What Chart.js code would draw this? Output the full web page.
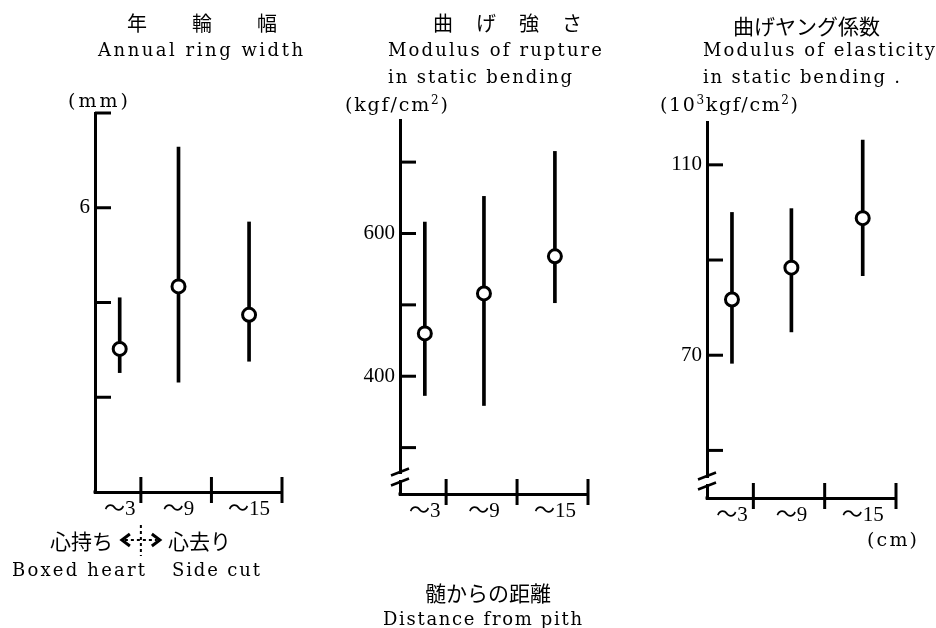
<!DOCTYPE html>
<html>
<head>
<meta charset="utf-8">
<script src="https://cdn.jsdelivr.net/npm/chart.js@4.4.1/dist/chart.umd.min.js"></script>
<style>
  body { margin: 0; background: #fff; }
  #wrap { position: relative; width: 936px; height: 628px; overflow: hidden; }
  canvas { position: absolute; top: 0; }
  .t { position: absolute; white-space: nowrap; color: #000; line-height: 20px; }
  .s { font: 18px 'DejaVu Serif', serif; }
  .u { font-size: 19px; }
  .j { font-family: 'Noto Sans CJK JP', sans-serif; font-size: 20px; }
  .sup { font-size: 12px; position: relative; top: -7px; line-height: 0; }
</style>
</head>
<body>
<div id="wrap">
  <canvas id="c1" width="312" height="628" style="left:0px"></canvas>
  <canvas id="c2" width="312" height="628" style="left:312px"></canvas>
  <canvas id="c3" width="312" height="628" style="left:624px"></canvas>

  <!-- panel titles -->
  <div class="t j" style="left:127px;top:13px;letter-spacing:45px">年輪幅</div>
  <div class="t s" data-w="205" style="left:98px;top:39px">Annual ring width</div>
  <div class="t s u" data-w="60" style="left:68px;top:89px">(mm)</div>

  <div class="t j" style="left:433px;top:13px;letter-spacing:23px">曲げ強さ</div>
  <div class="t s" data-w="214" style="left:388px;top:39px">Modulus of rupture</div>
  <div class="t s" data-w="184" style="left:388px;top:66px">in static bending</div>
  <div class="t s u" data-w="103" style="left:345px;top:93px">(kgf/cm<span class="sup">2</span>)</div>

  <div class="t j" style="left:733px;top:15px;font-size:21px">曲げヤング係数</div>
  <div class="t s" data-w="232" style="left:703px;top:39px">Modulus of elasticity</div>
  <div class="t s" data-w="197" style="left:703px;top:66px">in static bending .</div>
  <div class="t s u" data-w="138" style="left:660px;top:93px">(10<span class="sup">3</span>kgf/cm<span class="sup">2</span>)</div>

  <!-- captions -->
  <div class="t j" style="left:50px;top:530px;font-size:21px">心持ち</div>
  <div class="t j" style="left:168px;top:530px;font-size:21px">心去り</div>
  <div class="t s" data-w="133" style="left:12px;top:559px">Boxed heart</div>
  <div class="t s" data-w="88" style="left:172px;top:559px">Side cut</div>
  <div class="t s u" data-w="50" style="left:867px;top:528px">(cm)</div>
  <div class="t j" style="left:425px;top:582px;font-size:21px">髄からの距離</div>
  <div class="t s" data-w="199" style="left:383px;top:608px">Distance from pith</div>
</div>

<script>
// distance from pith (cm) groups
const groupLabels = ['～3', '～9', '～15'];
const groupX = [1.2, 6.2, 12.2];
const boundaryX = [3, 9, 15];
const xMin = -0.9;

// annual ring width (mm)
const ringMean = [4.51, 5.17, 4.87];
const ringLow = [4.26, 4.16, 4.38];
const ringHigh = [5.05, 6.64, 5.85];
const ringTicks = [4, 5, 6, 7];
const ringShown = [6];

// modulus of rupture (kgf/cm2)
const morMean = [460, 516, 568];
const morLow = [373, 359, 503];
const morHigh = [616, 652, 715];
const morTicks = [300, 400, 500, 600, 700];
const morShown = [400, 600];

// modulus of elasticity (10^3 kgf/cm2)
const moeMean = [81.7, 88.4, 98.8];
const moeLow = [68.3, 74.9, 86.7];
const moeHigh = [100, 100.8, 115.2];
const moeTicks = [50, 70, 90, 110];
const moeShown = [70, 110];

const tickFont = { family: "'Liberation Serif', 'Noto Sans CJK JP', serif", size: 21 };

function line(ctx, x1, y1, x2, y2) {
  ctx.beginPath();
  ctx.moveTo(x1, y1);
  ctx.lineTo(x2, y2);
  ctx.stroke();
}

// inward tick marks, axis break and the boxed/side arrow
const decor = {
  id: 'decor',
  afterDraw(chart, args, o) {
    const { ctx, chartArea: a } = chart;
    const xs = chart.scales.x, ys = chart.scales.y;
    ctx.save();
    ctx.strokeStyle = '#000';
    ctx.fillStyle = '#000';
    ctx.lineWidth = 3;
    o.ticks.forEach(v => {
      const py = ys.getPixelForValue(v);
      line(ctx, a.left, py, a.left + 16, py);
    });
    boundaryX.forEach(v => {
      const px = xs.getPixelForValue(v);
      line(ctx, px, a.bottom - 15, px, a.bottom + 11);
    });
    ctx.fillRect(a.left - 1.5, a.bottom - 1.5, 3, 3);

    if (o.broken) {
      const x = a.left, yb = a.bottom;
      ctx.fillStyle = '#fff';
      ctx.fillRect(x - 3, yb - 20, 6, 6);
      ctx.lineWidth = 2.5;
      line(ctx, x - 9, yb - 22 + 3.5, x + 9, yb - 22 - 3.5);
      line(ctx, x - 9, yb - 12 + 3.5, x + 9, yb - 12 - 3.5);
    }

    if (o.arrow) {
      const cx = xs.getPixelForValue(boundaryX[0]), cy = 540;
      ctx.lineWidth = 2;
      ctx.setLineDash([3, 3]);
      line(ctx, cx, cy - 15, cx, cy + 16);
      line(ctx, cx - 16, cy, cx + 16, cy);
      ctx.setLineDash([]);
      ctx.lineWidth = 3;
      ctx.beginPath();
      ctx.moveTo(cx - 11, cy - 6); ctx.lineTo(cx - 19, cy); ctx.lineTo(cx - 11, cy + 6);
      ctx.moveTo(cx + 11, cy - 6); ctx.lineTo(cx + 19, cy); ctx.lineTo(cx + 11, cy + 6);
      ctx.stroke();
    }
    ctx.restore();
  }
};

function makePanel(id, p) {
  return new Chart(document.getElementById(id), {
    type: 'scatter',
    data: {
      datasets: [
        {
          type: 'scatter',
          data: groupX.map((x, i) => ({ x: x, y: p.mean[i] })),
          pointRadius: 6.5,
          pointBorderWidth: 3,
          pointBackgroundColor: '#fff',
          pointBorderColor: '#000',
          order: 0
        },
        {
          type: 'bar',
          data: groupX.map((x, i) => ({ x: x, y: [p.low[i], p.high[i]] })),
          barThickness: 3,
          backgroundColor: '#000',
          order: 1
        }
      ]
    },
    options: {
      responsive: false,
      animation: false,
      events: [],
      layout: { padding: p.pad },
      plugins: {
        legend: { display: false },
        tooltip: { enabled: false },
        decor: { ticks: p.ticks, broken: p.broken, arrow: p.arrow }
      },
      scales: {
        x: {
          type: 'linear',
          min: xMin,
          max: boundaryX[boundaryX.length - 1],
          offset: false,
          afterBuildTicks: s => { s.ticks = groupX.map(v => ({ value: v })); },
          afterFit: s => { s.height = 40; },
          grid: { display: false, drawTicks: false },
          border: { display: true, color: '#000', width: 3 },
          ticks: {
            autoSkip: false, maxRotation: 0, padding: 5, color: '#000', font: tickFont,
            callback: (v, i) => groupLabels[i]
          }
        },
        y: {
          type: 'linear',
          min: p.min,
          max: p.max,
          afterBuildTicks: s => { s.ticks = p.ticks.map(v => ({ value: v })); },
          afterFit: s => { s.width = p.yw; },
          grid: { display: false, drawTicks: false },
          border: { display: true, color: '#000', width: 3 },
          ticks: {
            padding: 5, color: '#000', font: tickFont,
            callback: v => p.shown.includes(v) ? String(v) : ''
          }
        }
      }
    },
    plugins: [decor]
  });
}

makePanel('c1', {
  mean: ringMean, low: ringLow, high: ringHigh, ticks: ringTicks, shown: ringShown,
  min: 3, max: 7, yw: 95, pad: { left: 0, top: 113, right: 30, bottom: 96 }, arrow: true
});
makePanel('c2', {
  mean: morMean, low: morLow, high: morHigh, ticks: morTicks, shown: morShown,
  min: 235, max: 759, yw: 88, pad: { left: 0, top: 120, right: 36, bottom: 94 }, broken: true
});
makePanel('c3', {
  mean: moeMean, low: moeLow, high: moeHigh, ticks: moeTicks, shown: moeShown,
  min: 40, max: 119, yw: 83, pad: { left: 0, top: 122, right: 40, bottom: 90 }, broken: true
});

// stretch the latin captions to the width they have in the original figure
document.querySelectorAll('[data-w]').forEach(el => {
  const n = el.textContent.length;
  const w = el.getBoundingClientRect().width;
  el.style.letterSpacing = ((+el.dataset.w - w) / (n - 1)) + 'px';
});
</script>
</body>
</html>
